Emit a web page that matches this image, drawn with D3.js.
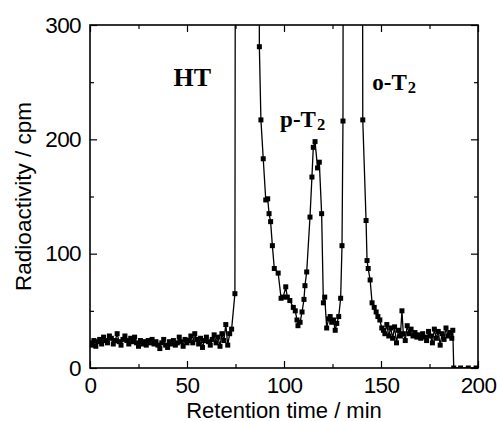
<!DOCTYPE html>
<html><head><meta charset="utf-8">
<script src="https://cdn.jsdelivr.net/npm/d3@7"></script>
<style>body{margin:0;background:#fff}svg{display:block}</style>
</head><body>
<script>
// ---- data ----
const time = [
 0,1,2,3,4,5,6,7,8,9,10,11,12,13,14,15,16,17,18,19,20,21,22,23,24,25,26,27,28,29,
 30,31,32,33,34,35,36,37,38,39,40,41,42,43,44,45,46,47,48,49,50,51,52,53,54,55,56,57,58,59,
 60,61,62,63,64,65,66,67,68,69,70,71,72,73,74.7,
 75.6,80,86.4,
 87.3,88.1,89.3,90.6,91.6,92.3,93.1,94,95,97,98.5,99.6,100.9,101.7,103,104.8,
 105.8,106.7,107.2,108.3,109.3,110.3,110.8,111.7,113.4,114.4,115.1,116.0,117.3,118.2,119.4,
 120.3,121,122,123,123.8,124.6,125.5,126.4,127.2,128.2,129.2,129.9,130.4,
 131.2,135,139.8,
 140.6,142.3,142.8,143.4,144.4,145.4,146.5,147.5,148.4,149.4,150.4,151.3,
 152,153,154,155,156,157,158,159,160,160.8,161.5,162.5,163.5,164.5,165.5,166.5,167.5,168.5,169.5,
 170.5,171.5,172.5,173.5,174.5,175.5,176.5,177.5,178.5,179.5,180.5,181.5,182.5,183.5,184.5,185.5,186.5,187,
 187.5,191,195,199
];
const cpm = [
 22,20,24,19,23,25,21,27,24,22,28,26,21,24,30,23,20,25,28,24,21,26,23,27,22,19,24,21,23,20,
 24,22,25,21,23,20,17,22,25,20,18,23,21,24,20,22,27,23,19,25,22,24,28,22,30,25,21,26,18,24,
 27,23,20,25,29,22,27,19,30,24,38,20,30,34,65,
 1500,2500,1500,
 281,217,183,147,148,135,128,107,87,83,61,62,71,62,59,53,
 50,42,37,40,49,60,72,84,132,167,193,198,175,180,135,
 57,62,35,43,45,40,42,33,39,45,61,107,216,
 1500,2500,1500,
 217,129,94,87,77,57,53,49,45,42,35,33,
 30,38,28,35,26,36,22,33,28,50,30,24,37,30,34,28,31,27,29,
 26,30,27,24,32,28,22,34,26,32,20,30,25,35,28,31,26,33,
 0,0,0,0
];
const xTicks = [0,50,100,150,200];
const yTicks = [0,100,200,300];
const xMinor = [25,75,125,175];
const yMinor = [50,150,250];
const labels = [
 {text:"HT", sub:"", t:43, v:247, size:26},
 {text:"p-T", sub:"2", t:98, v:211, size:23},
 {text:"o-T", sub:"2", t:145.5, v:243, size:23}
];

// ---- layout ----
const W = 497, H = 421;
const m = {left:90, right:19, top:25, bottom:53};
const svg = d3.select("body").append("svg").attr("width", W).attr("height", H);
const x = d3.scaleLinear().domain([0,200]).range([m.left, W - m.right]);
const y = d3.scaleLinear().domain([0,300]).range([H - m.bottom, m.top]);

svg.append("clipPath").attr("id","clip").append("rect")
  .attr("x", x(0)).attr("y", y(300)).attr("width", x(200)-x(0)).attr("height", y(0)-y(300));

const pts = time.map((t,i)=>({t, v:cpm[i]}));
const g = svg.append("g").attr("clip-path","url(#clip)");
g.append("path").datum(pts)
  .attr("fill","none").attr("stroke","#000").attr("stroke-width",1.3)
  .attr("d", d3.line().x(d=>x(d.t)).y(d=>y(d.v)));
const ms = 5;
g.selectAll("rect.pt").data(pts.filter(d=>d.v<=300)).join("rect")
  .attr("class","pt")
  .attr("x", d=>x(d.t)-ms/2).attr("y", d=>y(d.v)-ms/2)
  .attr("width", ms).attr("height", ms).attr("fill","#000");

// ---- axes (ticks inward on all four sides) ----
const font = "'Liberation Sans', Arial, sans-serif";
svg.append("g").attr("transform",`translate(0,${y(0)})`)
  .call(d3.axisBottom(x).tickValues(xTicks).tickSize(-7).tickPadding(9).tickFormat(d3.format("d")));
svg.append("g").attr("transform",`translate(0,${y(0)})`)
  .call(d3.axisBottom(x).tickValues(xMinor).tickSize(-4).tickFormat(""));
svg.append("g").attr("transform",`translate(0,${y(300)})`)
  .call(d3.axisTop(x).tickValues(xTicks).tickSize(-7).tickFormat(""));
svg.append("g").attr("transform",`translate(0,${y(300)})`)
  .call(d3.axisTop(x).tickValues(xMinor).tickSize(-4).tickFormat(""));
svg.append("g").attr("transform",`translate(${x(0)},0)`)
  .call(d3.axisLeft(y).tickValues(yTicks).tickSize(-7).tickPadding(9).tickFormat(d3.format("d")));
svg.append("g").attr("transform",`translate(${x(0)},0)`)
  .call(d3.axisLeft(y).tickValues(yMinor).tickSize(-4).tickFormat(""));
svg.append("g").attr("transform",`translate(${x(200)},0)`)
  .call(d3.axisRight(y).tickValues(yTicks).tickSize(-7).tickFormat(""));
svg.append("g").attr("transform",`translate(${x(200)},0)`)
  .call(d3.axisRight(y).tickValues(yMinor).tickSize(-4).tickFormat(""));
svg.selectAll(".domain").remove();
svg.selectAll(".tick line").attr("stroke","#000").attr("stroke-width",1.2);
svg.selectAll(".tick text").attr("fill","#000").style("font-family",font).style("font-size","22.5px")
  .attr("letter-spacing","-0.6px");

svg.append("rect").attr("x",x(0)).attr("y",y(300)).attr("width",x(200)-x(0)).attr("height",y(0)-y(300))
  .attr("fill","none").attr("stroke","#000").attr("stroke-width",1.6);

// axis titles
svg.append("text").attr("x",(x(0)+x(200))/2).attr("y",417.5).attr("text-anchor","middle")
  .style("font-family",font).style("font-size","22px").text("Retention time / min");
svg.append("text").attr("transform",`translate(31,${(y(0)+y(300))/2}) rotate(-90)`).attr("text-anchor","middle")
  .style("font-family",font).style("font-size","22.5px").text("Radioactivity / cpm");

// peak labels
labels.forEach(l=>{
  const tx = svg.append("text").attr("x",x(l.t)).attr("y",y(l.v))
    .style("font-family","'Liberation Serif','Times New Roman',serif").style("font-weight","bold")
    .style("font-size",l.size+"px");
  tx.append("tspan").text(l.text);
  if(l.sub) tx.append("tspan").attr("dx",1).attr("dy",3).style("font-size",(l.size*0.72)+"px").text(l.sub);
});
</script>
</body></html>
